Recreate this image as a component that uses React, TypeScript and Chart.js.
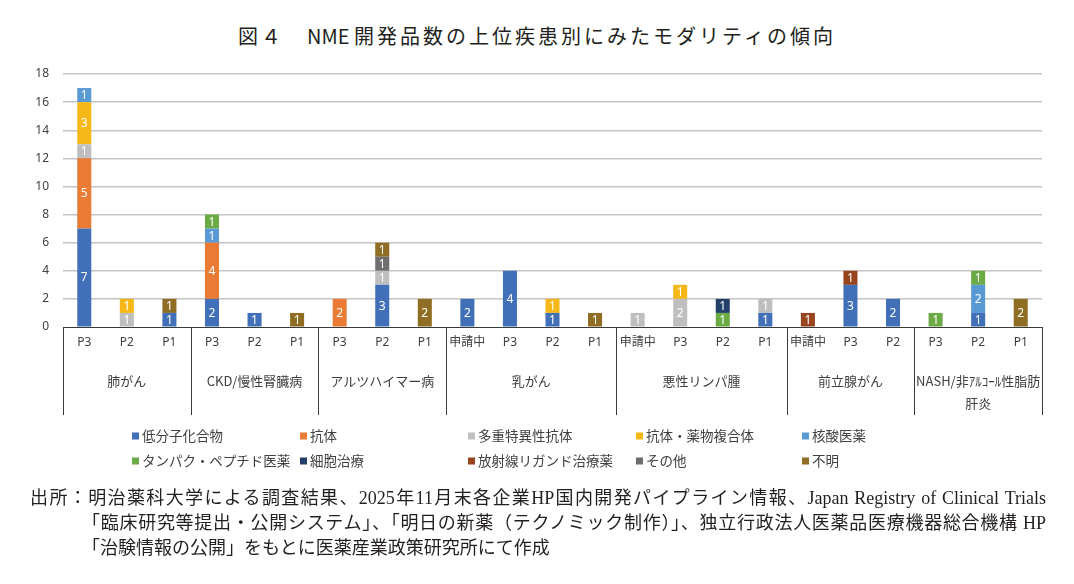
import React, { useEffect, useRef } from "react";
import { Chart, registerables } from "chart.js";

Chart.register(...registerables);

// Phase of each bar, grouped by disease
const categories = [
  "P3", "P2", "P1",
  "P3", "P2", "P1",
  "P3", "P2", "P1",
  "申請中", "P3", "P2", "P1",
  "申請中", "P3", "P2", "P1",
  "申請中", "P3", "P2",
  "P3", "P2", "P1",
];
const diseaseGroups = [
  ["肺がん"],
  ["CKD/慢性腎臓病"],
  ["アルツハイマー病"],
  ["乳がん"],
  ["悪性リンパ腫"],
  ["前立腺がん"],
  ["NASH/非ｱﾙｺｰﾙ性脂肪", "肝炎"],
];
const groupSizes = [3, 3, 3, 4, 4, 3, 3];

const N = null;
// Number of NME candidates per modality
const smallMolecule = [7, N, 1, 2, 1, N, N, 3, N, 2, 4, 1, N, N, N, N, 1, N, 3, 2, N, 1, N];
const antibody = [5, N, N, 4, N, N, 2, N, N, N, N, N, N, N, N, N, N, N, N, N, N, N, N];
const multispecific = [1, 1, N, N, N, N, N, 1, N, N, N, N, N, 1, 2, N, 1, N, N, N, N, N, N];
const adc = [3, 1, N, N, N, N, N, N, N, N, N, 1, N, N, 1, N, N, N, N, N, N, N, N];
const nucleicAcid = [1, N, N, 1, N, N, N, N, N, N, N, N, N, N, N, N, N, N, N, N, N, 2, N];
const peptide = [N, N, N, 1, N, N, N, N, N, N, N, N, N, N, N, 1, N, N, N, N, 1, 1, N];
const cellTherapy = [N, N, N, N, N, N, N, N, N, N, N, N, N, N, N, 1, N, N, N, N, N, N, N];
const radioligand = [N, N, N, N, N, N, N, N, N, N, N, N, N, N, N, N, N, 1, 1, N, N, N, N];
const other = [N, N, N, N, N, N, N, 1, N, N, N, N, N, N, N, N, N, N, N, N, N, N, N];
const unknown = [N, N, 1, N, N, 1, N, 1, 2, N, N, N, 1, N, N, N, N, N, N, N, N, N, 2];

const seriesNames = [
  "低分子化合物", "抗体", "多重特異性抗体", "抗体・薬物複合体", "核酸医薬",
  "タンパク・ペプチド医薬", "細胞治療", "放射線リガンド治療薬", "その他", "不明",
];
const seriesValues = [
  smallMolecule, antibody, multispecific, adc, nucleicAcid,
  peptide, cellTherapy, radioligand, other, unknown,
];
const seriesColors = [
  "#4170B8", "#E97B35", "#BFBFBF", "#F6B819", "#5A9AD4",
  "#6CAA45", "#253F6B", "#98441C", "#6E6E6E", "#8F6D22",
];
const yTicks = [0, 2, 4, 6, 8, 10, 12, 14, 16, 18];

const TEXT = "#404040";
const JP = '"Noto Sans CJK JP", "Noto Sans", sans-serif';

// White value labels centred in each stacked segment
const segmentLabels = {
  id: "segmentLabels",
  afterDatasetsDraw(chart: any) {
    const ctx = chart.ctx;
    ctx.save();
    ctx.fillStyle = "#ffffff";
    ctx.font = '12px "Noto Sans", sans-serif';
    ctx.textAlign = "center";
    ctx.textBaseline = "middle";
    chart.data.datasets.forEach((ds: any, di: number) => {
      const meta = chart.getDatasetMeta(di);
      meta.data.forEach((bar: any, i: number) => {
        const v = ds.data[i];
        if (v == null) return;
        ctx.fillText(String(v), bar.x, (bar.y + bar.base) / 2 + 0.5);
      });
    });
    ctx.restore();
  },
};

// Two-level category axis (phase / disease) and the legend grid
const axisAndLegend = {
  id: "axisAndLegend",
  afterDraw(chart: any) {
    const ctx = chart.ctx;
    const area = chart.chartArea;
    const xs = chart.scales.x;
    const top = area.bottom;
    const phaseY = top + 16;
    const groupY = top + 54;
    const lineBottom = top + 88;
    ctx.save();

    ctx.fillStyle = TEXT;
    ctx.textAlign = "center";
    ctx.textBaseline = "middle";
    ctx.font = '12px "Noto Sans", "Noto Sans CJK JP", sans-serif';
    categories.forEach((c, i) => {
      ctx.fillText(c, xs.getPixelForValue(i), phaseY);
    });

    const step = xs.getPixelForValue(1) - xs.getPixelForValue(0);
    ctx.strokeStyle = "#3a3a3a";
    ctx.lineWidth = 1;
    let start = 0;
    const edges: number[] = [area.left];
    diseaseGroups.forEach((lines, g) => {
      const end = start + groupSizes[g] - 1;
      const left = xs.getPixelForValue(start) - step / 2;
      const right = xs.getPixelForValue(end) + step / 2;
      edges.push(right);
      ctx.font = `13px ${JP}`;
      lines.forEach((t, k) => {
        ctx.fillText(t, (left + right) / 2, groupY + k * 22);
      });
      start = end + 1;
    });
    edges.forEach((x) => {
      const px = Math.round(x) + 0.5;
      ctx.beginPath();
      ctx.moveTo(px, top);
      ctx.lineTo(px, lineBottom);
      ctx.stroke();
    });

    // legend: 5 columns x 2 rows
    const cols = [132, 300, 468, 636, 802];
    const rows = [436, 461];
    ctx.textAlign = "left";
    ctx.font = `13.5px ${JP}`;
    seriesNames.forEach((name, i) => {
      const x = cols[i % 5];
      const y = rows[Math.floor(i / 5)];
      ctx.fillStyle = seriesColors[i];
      ctx.fillRect(x, y - 3.5, 7, 7);
      ctx.fillStyle = TEXT;
      ctx.fillText(name, x + 10, y);
    });
    ctx.restore();
  },
};

export default function App() {
  const canvasRef = useRef<HTMLCanvasElement | null>(null);

  useEffect(() => {
    document.body.style.margin = "0";
    const chart = new Chart(canvasRef.current as HTMLCanvasElement, {
      type: "bar",
      data: {
        labels: categories,
        datasets: seriesNames.map((name, i) => ({
          label: name,
          data: seriesValues[i],
          backgroundColor: seriesColors[i],
          borderWidth: 0,
          categoryPercentage: 1,
          barPercentage: 0.33,
        })),
      },
      options: {
        animation: false,
        responsive: false,
        maintainAspectRatio: false,
        layout: { padding: { top: 74, bottom: 257, right: 32, left: 0 } },
        plugins: {
          legend: { display: false },
          tooltip: { enabled: false },
          title: { display: false },
        },
        scales: {
          x: {
            stacked: true,
            display: false,
            offset: true,
          },
          y: {
            stacked: true,
            min: 0,
            max: 18,
            afterFit(scale: any) {
              scale.width = 63;
            },
            afterBuildTicks(scale: any) {
              scale.ticks = yTicks.map((v) => ({ value: v }));
            },
            border: { display: false },
            grid: {
              drawTicks: false,
              color: (c: any) => (c.tick && c.tick.value === 0 ? "#3a3a3a" : "#C4C4C4"),
              lineWidth: (c: any) => (c.tick && c.tick.value === 0 ? 1 : 1.4),
            },
            ticks: {
              padding: 14,
              color: TEXT,
              font: { size: 12, family: '"Noto Sans", sans-serif' },
            },
          },
        },
      },
      plugins: [segmentLabels, axisAndLegend],
    });
    return () => chart.destroy();
  }, []);

  const sourceStyle: React.CSSProperties = {
    position: "absolute",
    fontFamily: '"Liberation Serif", "Noto Sans CJK JP", serif',
    fontSize: 18,
    lineHeight: "25px",
    color: "#231f20",
    whiteSpace: "nowrap",
  };

  return (
    <div style={{ position: "relative", width: 1074, height: 584, background: "#fff", overflow: "hidden" }}>
      <div
        style={{
          position: "absolute",
          top: 22,
          left: 0,
          width: 1074,
          textAlign: "center",
          fontFamily: JP,
          fontSize: 20,
          lineHeight: "28px",
          color: "#231f20",
          whiteSpace: "nowrap",
        }}
      >
        <span style={{ letterSpacing: 3 }}>図４　</span>
        <span style={{ letterSpacing: 0 }}>NME </span>
        <span style={{ letterSpacing: 3 }}>開発品数の上位疾患別にみたモダリティの傾向</span>
      </div>
      <canvas ref={canvasRef} width={1074} height={584} style={{ position: "absolute", left: 0, top: 0 }} />
      <div style={{ ...sourceStyle, top: 486, left: 30, width: 1016, textAlignLast: "justify" as any }}>
        出所：明治薬科大学による調査結果、2025年11月末各企業HP国内開発パイプライン情報、Japan Registry of Clinical Trials
      </div>
      <div style={{ ...sourceStyle, top: 511, left: 82, width: 964, textAlignLast: "justify" as any }}>
        「臨床研究等提出・公開システム」、「明日の新薬（テクノミック制作）」、独立行政法人医薬品医療機器総合機構 HP
      </div>
      <div style={{ ...sourceStyle, top: 536, left: 82 }}>
        「治験情報の公開」をもとに医薬産業政策研究所にて作成
      </div>
    </div>
  );
}
